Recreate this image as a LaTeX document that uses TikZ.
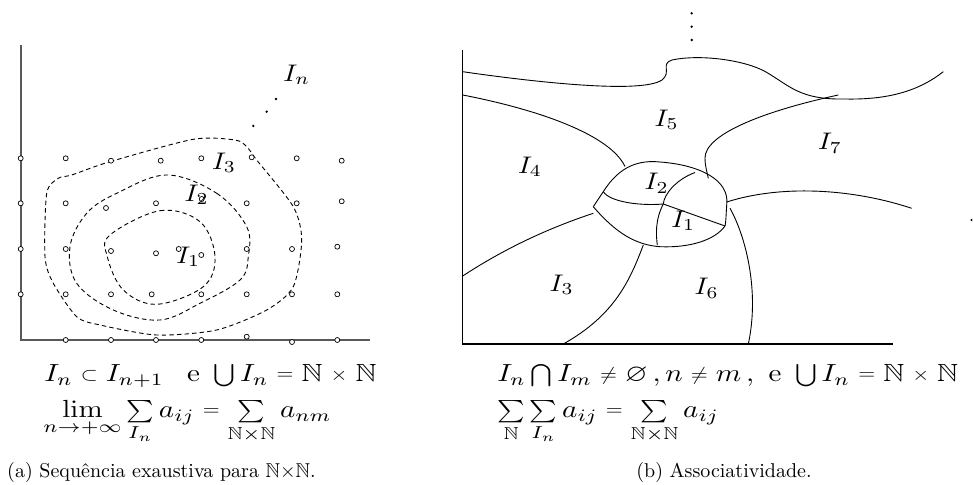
\documentclass[tikz,border=0pt]{standalone}
\usepackage{amsmath,amssymb,graphicx}
\usetikzlibrary{calc}
\newcommand{\smrel}[1]{\mathrel{\vcenter{\hbox{\scalebox{0.75}{$#1$}}}}}
\newcommand{\smop}[1]{\mathop{\vcenter{\hbox{\scalebox{0.9}{$\textstyle#1$}}}}}
\newcommand{\stretchit}[1]{\scalebox{1.45}[1.24]{#1}}
\newcommand{\lbl}[1]{\scalebox{1.35}[1.2]{#1}}
\newcommand{\NxN}{\mathbb{N}{\times}\mathbb{N}}
\tikzset{
  pt/.style={draw, circle, inner sep=0pt, minimum size=2.5pt, line width=0.35pt, fill=white},
  region/.style={dash pattern=on 2.2pt off 1.6pt, line width=0.45pt},
  edge/.style={line width=0.45pt},
  axisA/.style={line width=0.9pt, draw=black!65},
  axisB/.style={line width=0.55pt},
  lab/.style={inner sep=0pt},
  smalldot/.style={fill, circle, inner sep=0pt, minimum size=1.3pt},
  txt/.style={inner sep=0pt, anchor=base west}
}
\begin{document}
\begin{tikzpicture}[x=0.5pt,y=-0.5pt]
\useasboundingbox (0,0) rectangle (973,485);
% ---------- left panel ----------
\draw[region] plot[smooth cycle, tension=0.6] coordinates {(110,235) (160,210.7) (200,221.7) (215,256.7) (203.3,286.7) (156.7,304.3) (123.3,290) (107.3,256.7)};
\draw[region] plot[smooth cycle, tension=0.6] coordinates {(166.7,175) (216.7,193.3) (246.7,226.7) (248.3,256.7) (240,280) (200,303.3) (160,320) (113.3,310) (76.7,283.3) (70,246.7) (86.7,213.3) (116.7,193.3)};
\draw[region] plot[smooth cycle, tension=0.45] coordinates {(71.7,175) (110,161.7) (193.3,139.3) (235,140) (246.7,146.7) (256.7,160) (293.3,206.7) (301.7,240) (293.3,286.7) (266.7,310) (216.7,330) (156.7,335) (100,325) (76.7,316.7) (53.3,283.3) (45,256.7) (46.7,193.3) (58.3,178.3)};
\coordinate (oA) at (20.7,340);
\coordinate (yA) at (20.7,45);
\coordinate (xA) at (370,340);
\draw[axisA] (yA) -- (oA) -- (xA);
\foreach \p [count=\i] in {(20.7,158.3),(65.7,158.3),(111,160.7),(160.7,160.7),(201.3,158.3),(251.7,157.3),(296.7,158.3),(341.7,160.7),
  (20.7,203.3),(65.7,203.3),(106,208),(156,203.3),(201.7,199),(246.7,203.3),(296.7,203.3),(341.7,201.3),
  (20.7,249),(65.7,249),(111,251),(156,253.3),(178.7,249),(201.3,255),(246.7,249),(292,249),(337.3,246.7),
  (20.7,294.3),(65.7,294.3),(111,294.3),(151.7,294.3),(201.3,294.3),(246.7,294.3),(292,294.3),(337.3,294.3),
  (65.7,340),(111,340),(156,340),(201.3,340),(246.7,336.7),(292,342),(337.3,340)}
  \node[pt] (p\i) at \p {};
\node[lab] (In) at (296.7,75) {\lbl{$I_n$}};
\node[lab] (L3) at (224,162.7) {\lbl{$I_3$}};
\node[lab] (L2) at (196.7,195) {\lbl{$I_2$}};
\node[lab] (L1) at (188.3,256.7) {\lbl{$I_1$}};
\node[smalldot] (d1) at (276,99) {};
\node[smalldot] (d2) at (266.7,111.7) {};
\node[smalldot] (d3) at (253.3,126) {};
% formulas
\node[txt] (fa1) at (44,382) {\stretchit{$I_n \smrel{\subset} I_{n+1}\hspace{8pt}\text{e}\hspace{3pt}\smop{\bigcup} I_n \smrel{=} \mathbb{N}\smrel{\times}\mathbb{N}$}};
\node[txt] (fa2) at (43,418) {\stretchit{$\displaystyle\lim_{n\to+\infty}\smop{\sum}\limits_{I_n} a_{ij} \smrel{=} \smop{\sum}\limits_{\NxN} a_{nm}$}};
\node[inner sep=0pt] (capA) at (161.5,472) {(a)\ Sequência exaustiva para $\mathbb{N}{\times}\mathbb{N}$.};
% ---------- right panel ----------
\coordinate (oB) at (462.7,344);
\coordinate (yB) at (462.7,50);
\coordinate (xB) at (893.3,344);
\draw[axisB] (yB) -- (oB) -- (xB);
\node[smalldot] (v1) at (691.7,13.3) {};
\node[smalldot] (v2) at (691.7,26.7) {};
\node[smalldot] (v3) at (691.7,40) {};
\node[smalldot, minimum size=1.1pt] (h1) at (971.5,220) {};
\draw[edge] (462.7,71.7) .. controls (520,80) and (640,95) .. (662,80)
  .. controls (672,72) and (660,64) .. (672,60)
  .. controls (700,54) and (745,60) .. (766,72)
  .. controls (790,86) and (800,100) .. (845,99)
  .. controls (890,100) and (920,90) .. (943.3,71.7);
\draw[edge] (462.7,95) .. controls (540,110) and (610,135) .. (625,166.5);
\draw[edge] (838.3,95) .. controls (760,112) and (705,135) .. (705,158)
  .. controls (705,166) and (707,172) .. (708.3,178.3);
\coordinate (cl) at (593.3,206.7);
\coordinate (ctl) at (603.3,191.7);
\coordinate (cx) at (663.3,204);
\coordinate (cr) at (725,226);
\draw[edge] (ctl) .. controls (620,165) and (640,160) .. (660,162)
  .. controls (700,165) and (730,180) .. (726.7,205)
  .. controls (726,215) and (726,222) .. (cr);
\draw[edge] (cl) .. controls (615,232) and (635,245) .. (660,246.7)
  .. controls (690,248) and (715,240) .. (cr);
\draw[edge] (cl) -- (ctl);
\draw[edge] (ctl) .. controls (610,202) and (640,206) .. (cx);
\draw[edge] (cx) -- (cr);
\draw[edge] (695,172.5) .. controls (675,180) and (664,195) .. (cx)
  .. controls (655,220) and (656,235) .. (657.3,245);
\draw[edge] (593.3,213.3) .. controls (555,226) and (510,245) .. (462.7,276);
\draw[edge] (643.3,245) .. controls (630,280) and (615,315) .. (563.3,344);
\draw[edge] (730,208.3) .. controls (745,235) and (760,290) .. (748.3,344);
\draw[edge] (726.7,202) .. controls (780,185) and (850,188) .. (911.7,208.3);
\node[lab] (R5) at (666.7,120) {\lbl{$I_5$}};
\node[lab] (R4) at (530,166.7) {\lbl{$I_4$}};
\node[lab] (R7) at (830,143.3) {\lbl{$I_7$}};
\node[lab] (R2) at (656.7,183.3) {\lbl{$I_2$}};
\node[lab] (R1) at (683.3,221) {\lbl{$I_1$}};
\node[lab] (R3) at (561.7,285) {\lbl{$I_3$}};
\node[lab] (R6) at (706.7,288.3) {\lbl{$I_6$}};
\node[txt] (fb1) at (497,382) {\stretchit{$I_n \smop{\bigcap} I_m \smrel{\neq} \varnothing\,, n\smrel{\neq} m\,,\ \text{e}\hspace{3pt}\smop{\bigcup} I_n \smrel{=} \mathbb{N}\smrel{\times}\mathbb{N}$}};
\node[txt] (fb2) at (497,418) {\stretchit{$\smop{\sum}\limits_{\mathbb{N}}\smop{\sum}\limits_{I_n} a_{ij} \smrel{=} \smop{\sum}\limits_{\NxN} a_{ij}$}};
\node[inner sep=0pt] (capB) at (724,472) {(b)\ Associatividade.};
\end{tikzpicture}
\end{document}
